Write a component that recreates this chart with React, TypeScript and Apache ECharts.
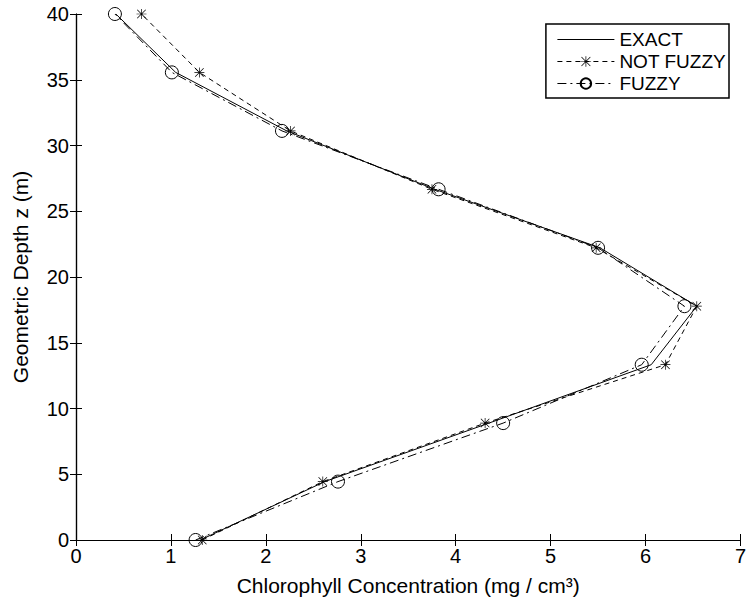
import React, { useEffect, useRef } from "react";
import * as echarts from "echarts";

const depth = [0, 4.44, 8.89, 13.33, 17.78, 22.22, 26.67, 31.11, 35.56, 40];
const exact = [1.31, 2.62, 4.35, 6.06, 6.54, 5.52, 3.78, 2.22, 1.05, 0.42];
const notFuzzy = [1.33, 2.6, 4.31, 6.21, 6.54, 5.48, 3.75, 2.26, 1.3, 0.69];
const fuzzy = [1.26, 2.76, 4.5, 5.96, 6.41, 5.5, 3.82, 2.17, 1.01, 0.41];
const seriesNames = ["EXACT", "NOT FUZZY", "FUZZY"];

const FONT = "Liberation Sans, Arial, Helvetica, sans-serif";
const STAR =
  "path://M9.3 0 L10.7 0 L10.7 20 L9.3 20 Z M0 9.3 L20 9.3 L20 10.7 L0 10.7 Z M1 2 L2 1 L19 18 L18 19 Z M18 1 L19 2 L2 19 L1 18 Z";

const pairs = (xs: number[]) => xs.map((x, i) => [x, depth[i]]);

export default function App() {
  const ref = useRef<HTMLDivElement>(null);
  useEffect(() => {
    if (!ref.current) return;
    const chart = echarts.init(ref.current, undefined, { renderer: "svg" });
    const axisCommon = {
      type: "value" as const,
      axisLine: { show: true, lineStyle: { color: "#000", width: 1.2 } },
      axisTick: { show: true, inside: true, length: 6, lineStyle: { color: "#000" } },
      splitLine: { show: false },
    };
    chart.setOption({
      animation: false,
      backgroundColor: "#fff",
      grid: { left: 76, right: 8, top: 14, bottom: 63, containLabel: false },
      legend: {
        right: 20,
        top: 24,
        orient: "vertical",
        data: seriesNames,
        itemWidth: 57,
        itemHeight: 13,
        itemGap: 3,
        padding: [6, 3, 5, 11],
        borderColor: "#000",
        borderWidth: 1.5,
        backgroundColor: "#fff",
        lineStyle: { width: 1 },
        textStyle: { color: "#000", fontSize: 19, fontFamily: FONT },
      },
      xAxis: [
        {
          ...axisCommon,
          min: 0,
          max: 7,
          interval: 1,
          position: "bottom",
          axisLabel: { color: "#000", fontSize: 20, fontFamily: FONT, margin: 6 },
          name: "Chlorophyll Concentration (mg / cm³)",
          nameLocation: "middle",
          nameGap: 35,
          nameTextStyle: { color: "#000", fontSize: 21, fontFamily: FONT },
        },
        {
          ...axisCommon,
          min: 0,
          max: 7,
          interval: 1,
          position: "top",
          axisLabel: { show: false },
        },
      ],
      yAxis: [
        {
          ...axisCommon,
          min: 0,
          max: 40,
          interval: 5,
          position: "left",
          axisLabel: { color: "#000", fontSize: 20, fontFamily: FONT, margin: 7 },
          name: "Geometric Depth z (m)",
          nameLocation: "middle",
          nameGap: 45,
          nameTextStyle: { color: "#000", fontSize: 21, fontFamily: FONT },
        },
        {
          ...axisCommon,
          min: 0,
          max: 40,
          interval: 5,
          position: "right",
          axisLabel: { show: false },
        },
      ],
      series: [
        {
          name: seriesNames[0],
          type: "line",
          data: pairs(exact),
          symbol: "circle",
          showSymbol: false,
          lineStyle: { color: "#000", width: 1, type: "solid" },
          itemStyle: { color: "rgba(0,0,0,0)", borderWidth: 0 },
        },
        {
          name: seriesNames[1],
          type: "line",
          data: pairs(notFuzzy),
          symbol: STAR,
          symbolSize: 10,
          lineStyle: { color: "#000", width: 1, type: [5, 4] },
          itemStyle: { color: "#000" },
        },
        {
          name: seriesNames[2],
          type: "line",
          data: pairs(fuzzy),
          symbol: "circle",
          symbolSize: 13,
          lineStyle: { color: "#000", width: 1, type: [9, 4, 2, 4] },
          itemStyle: { color: "transparent", borderColor: "#000", borderWidth: 1 },
        },
      ],
    });
    return () => chart.dispose();
  }, []);
  return <div ref={ref} style={{ width: 749, height: 603, position: "absolute", left: 0, top: 0 }} />;
}
